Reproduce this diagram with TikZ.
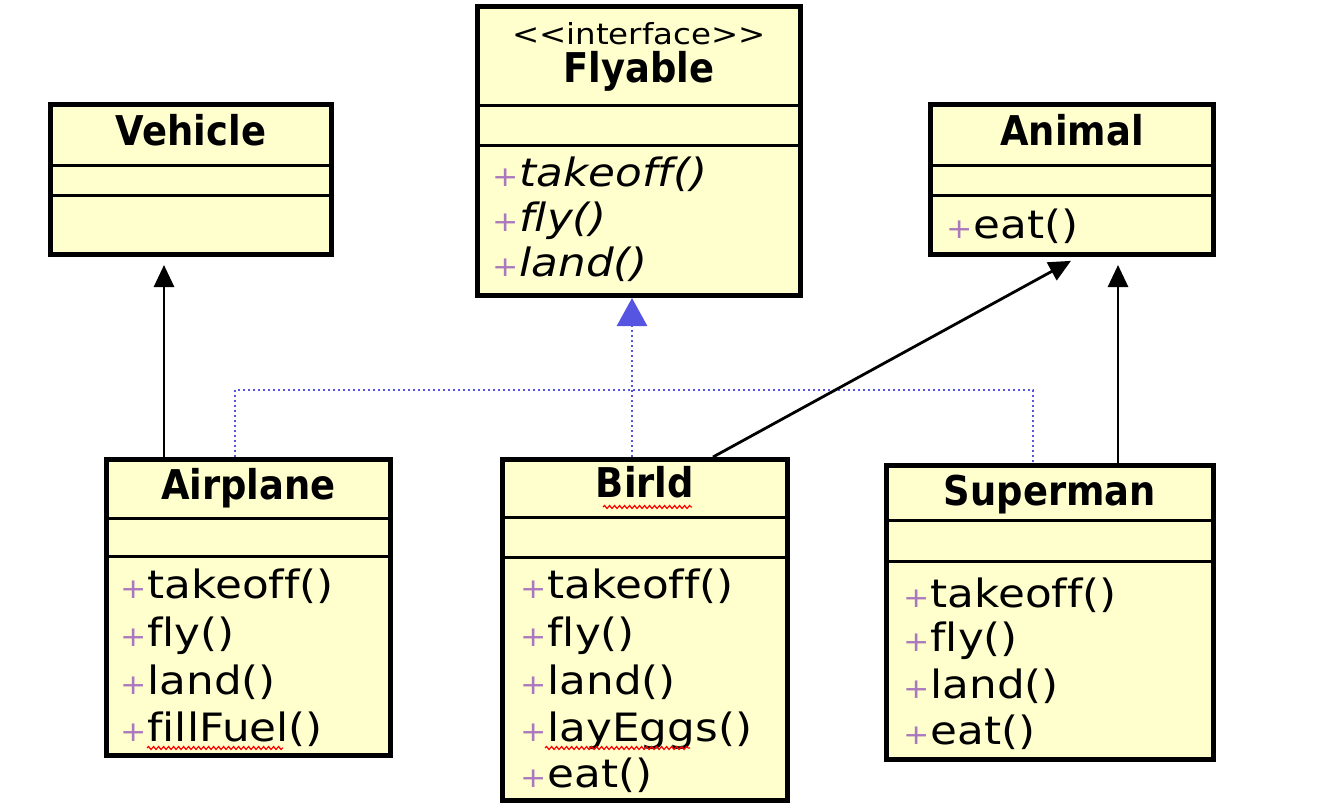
\documentclass[tikz,border=0pt]{standalone}
\usepackage{fontspec}
\setmainfont{DejaVu Sans}
\newfontfamily\methfont[FakeStretch=1.12,Ligatures={NoCommon}]{DejaVu Sans}
\newfontfamily\titlefont[FakeStretch=0.9,Ligatures={NoCommon}]{DejaVu Sans}
\usetikzlibrary{arrows.meta,decorations.pathmorphing,calc}
\definecolor{fillc}{RGB}{255,255,206}
\definecolor{plusc}{RGB}{170,120,190}
\definecolor{realc}{RGB}{85,85,225}
\newcommand{\pl}{\textcolor{plusc}{\fontsize{28}{28}\selectfont+}\hspace{1pt}}
\begin{document}
\begin{tikzpicture}[x=1pt,y=-1pt,
  classbox/.style={draw, line width=5pt, fill=fillc, inner sep=0pt, rectangle},
  divline/.style={line width=3pt},
  title/.style={anchor=base, inner sep=0pt, font=\titlefont\fontsize{41}{43}\selectfont\bfseries},
  meth/.style={anchor=base west, inner sep=0pt, font=\methfont\fontsize{39}{41}\selectfont},
  imeth/.style={meth, font=\methfont\fontsize{39}{41}\selectfont\itshape},
  inh/.style={line width=2.8pt, -{Triangle[width=20pt,length=22pt]}, shorten >=8pt},
  real/.style={realc, line width=2.8pt, dash pattern=on 2pt off 3pt},
  realtip/.style={real, -{Triangle[width=30pt,length=28pt,fill=realc]}},
  squig/.style={red, line width=1.2pt, decorate, decoration={snake, amplitude=1.5pt, segment length=5pt}}]
\useasboundingbox (0,0) rectangle (1319,808);
\fill[white] (0,0) rectangle (1319,808);

% Vehicle
\node[classbox, minimum width=281pt, minimum height=150pt] (vehicle) at (191,179.5) {};
\draw[divline] (vehicle.west |- 0,165) -- (vehicle.east |- 0,165);
\draw[divline] (vehicle.west |- 0,195) -- (vehicle.east |- 0,195);
\node[title] (vehicle-t) at (191,145) {Vehicle};

% Flyable
\node[classbox, minimum width=323pt, minimum height=289pt] (flyable) at (639,151) {};
\draw[divline] (flyable.west |- 0,105) -- (flyable.east |- 0,105);
\draw[divline] (flyable.west |- 0,145) -- (flyable.east |- 0,145);
\node[anchor=base, inner sep=0pt, font=\methfont\fontsize{29}{31}\selectfont] (flyable-s) at (639,45) {\textless\textless interface\textgreater\textgreater};
\node[title] (flyable-t) at (639,82) {Flyable};
\node[imeth] (flyable-m1) at (492,186) {\pl takeoff()};
\node[imeth] (flyable-m2) at (492,231) {\pl fly()};
\node[imeth] (flyable-m3) at (492,276) {\pl land()};

% Animal
\node[classbox, minimum width=283pt, minimum height=150pt] (animal) at (1072,179.5) {};
\draw[divline] (animal.west |- 0,165) -- (animal.east |- 0,165);
\draw[divline] (animal.west |- 0,195) -- (animal.east |- 0,195);
\node[title] (animal-t) at (1072,145) {Animal};
\node[meth] (animal-m1) at (946,238) {\pl eat()};

% Airplane
\node[classbox, minimum width=284pt, minimum height=296pt] (airplane) at (248.5,607.5) {};
\draw[divline] (airplane.west |- 0,518) -- (airplane.east |- 0,518);
\draw[divline] (airplane.west |- 0,556) -- (airplane.east |- 0,556);
\node[title] (airplane-t) at (248.5,499) {Airplane};
\node[meth] (airplane-m1) at (120,598) {\pl takeoff()};
\node[meth] (airplane-m2) at (120,646) {\pl fly()};
\node[meth] (airplane-m3) at (120,694) {\pl land()};
\node[meth] (airplane-m4) at (120,741) {\pl fillFuel()};

% Birld
\node[classbox, minimum width=285pt, minimum height=341pt] (birld) at (645,630) {};
\draw[divline] (birld.west |- 0,517) -- (birld.east |- 0,517);
\draw[divline] (birld.west |- 0,557) -- (birld.east |- 0,557);
\node[title] (birld-t) at (645,497) {Birld};
\node[meth] (birld-m1) at (520,598) {\pl takeoff()};
\node[meth] (birld-m2) at (520,646) {\pl fly()};
\node[meth] (birld-m3) at (520,694) {\pl land()};
\node[meth] (birld-m4) at (520,741) {\pl layEggs()};
\node[meth] (birld-m5) at (520,787) {\pl eat()};

% Superman
\node[classbox, minimum width=327pt, minimum height=294pt] (superman) at (1050,612.5) {};
\draw[divline] (superman.west |- 0,520) -- (superman.east |- 0,520);
\draw[divline] (superman.west |- 0,561) -- (superman.east |- 0,561);
\node[title] (superman-t) at (1050,505) {Superman};
\node[meth] (superman-m1) at (903,607) {\pl takeoff()};
\node[meth] (superman-m2) at (903,651) {\pl fly()};
\node[meth] (superman-m3) at (903,698) {\pl land()};
\node[meth] (superman-m4) at (903,744) {\pl eat()};

% spell-check squiggles
\draw[squig] (603,507) -- (692,507);
\draw[squig] (545,748) -- (690,748);
\draw[squig] (147,748) -- (283,748);

% realization (dotted, blue)
\coordinate (busL) at (235,390);
\coordinate (busM) at (632,390);
\coordinate (busR) at (1033,390);
\draw[real] (busL |- airplane.north) -- (busL) -- (busR) -- (busR |- superman.north);
\draw[realtip] (busM |- birld.north) -- (busM |- flyable.south);

% inheritance (solid, black)
\draw[inh] ([xshift=-84.5pt]airplane.north) -- ([xshift=-84.5pt]airplane.north |- vehicle.south);
\draw[inh] ([xshift=68pt]superman.north) -- ([xshift=68pt]superman.north |- animal.south);
\coordinate (animalTip) at (1078,257);
\draw[inh] ([xshift=68pt]birld.north) -- (animalTip);
\end{tikzpicture}
\end{document}
